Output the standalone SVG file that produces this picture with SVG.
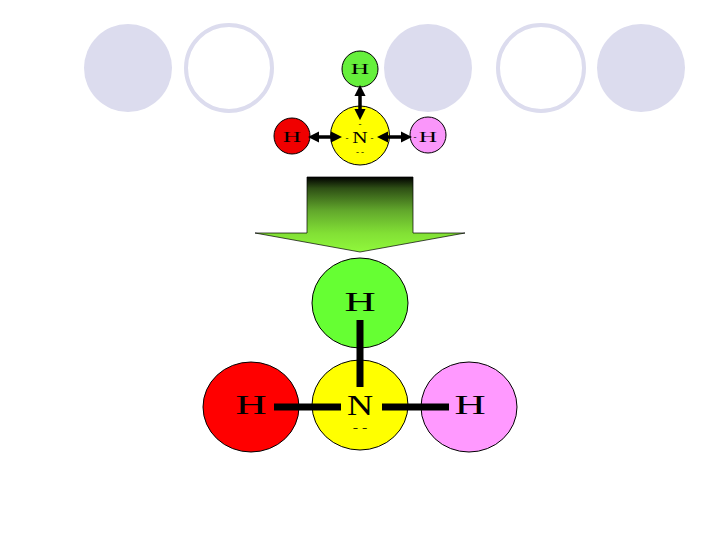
<svg xmlns="http://www.w3.org/2000/svg" width="720" height="540" viewBox="0 0 720 540">
<style>
.deco{fill:#dcdcee}
.ring{fill:#fff;stroke:#dcdcee;stroke-width:4}
.atom{stroke:#000;stroke-width:1}
text{font-family:"Liberation Serif",serif;fill:#000;text-anchor:middle}
.big{font-size:27px}
.bign{font-size:29px}
.small{font-size:14.500px}
.smalln{font-size:17px}
.dash{font-size:9px}
.bond{stroke:#000;stroke-width:7;fill:none}
.arr{stroke:#000;stroke-width:3.500;fill:none;marker-start:url(#ah);marker-end:url(#ah)}
</style>
<defs>
<marker id="ah" viewBox="0 0 10 10" refX="5" refY="5" markerWidth="3.200" markerHeight="3.200" orient="auto-start-reverse"><path d="M0 0L10 5L0 10Z" fill="#000"/></marker>
<linearGradient id="g" x1="0" y1="0" x2="0" y2="1"><stop offset="0" stop-color="#000"/><stop offset=".15" stop-color="#2e4f15"/><stop offset=".45" stop-color="#62a82c"/><stop offset=".75" stop-color="#82e035"/><stop offset="1" stop-color="#90f83c"/></linearGradient>
</defs>
<g id="decor">
<circle class="deco" cx="128" cy="68" r="44"/>
<circle class="ring" cx="229" cy="68" r="43"/>
<circle class="deco" cx="428" cy="68" r="44"/>
<circle class="ring" cx="541" cy="68" r="43"/>
<circle class="deco" cx="641" cy="68" r="44"/>
</g>
<g id="s-h-top"><circle class="atom" cx="360" cy="69" r="18" fill="#66f03c"/><text class="small" transform="translate(360 73.500) scale(1.750 1)">H</text></g>
<g id="s-n"><circle class="atom" cx="360" cy="135.500" r="29.500" fill="#ffff00"/><text class="smalln" transform="translate(360 143) scale(1.250 1)">N</text><text class="dash" x="347" y="141">-</text><text class="dash" x="372" y="141">-</text><text class="dash" x="360" y="127">-</text><text class="dash" x="360" y="155">- -</text></g>
<g id="s-h-left"><circle class="atom" cx="292" cy="136" r="18" fill="#f00000"/><text class="small" transform="translate(292 141.500) scale(1.750 1)">H</text></g>
<g id="s-h-right"><circle class="atom" cx="428" cy="135" r="18" fill="#fa96fa"/><text class="small" transform="translate(428 141.500) scale(1.750 1)">H</text><text class="dash" x="415" y="140">-</text></g>
<g id="arrow"><path d="M307 177H413V233H465L360 252L255 233H307Z" fill="url(#g)" stroke="#000" stroke-width=".7"/></g>
<g id="b-h-top"><ellipse class="atom" cx="360" cy="303" rx="48" ry="45" fill="#66ff33"/><text class="big" transform="translate(360 311) scale(1.600 1)">H</text></g>
<g id="b-n"><ellipse class="atom" cx="360" cy="405" rx="48" ry="45" fill="#ffff00"/><text class="bign" transform="translate(360 415) scale(1.250 1)">N</text><text transform="translate(360 431) scale(1.600 1)" style="font-size:10px">- -</text></g>
<g id="b-h-left"><ellipse class="atom" cx="251" cy="407" rx="48" ry="45" fill="#ff0000"/><text class="big" transform="translate(251 414) scale(1.600 1)">H</text></g>
<g id="b-h-right"><ellipse class="atom" cx="469" cy="407" rx="48" ry="45" fill="#ff99ff"/><text class="big" transform="translate(470 414) scale(1.600 1)">H</text></g>
<g id="connectors">
<path class="arr" d="M360 90.500V114.500"/>
<path class="arr" d="M313.500 137H336.500"/>
<path class="arr" d="M382.500 137H406.500"/>
<path class="bond" d="M360 320V387"/>
<path class="bond" d="M274 407H341"/>
<path class="bond" d="M382 407H449"/>
</g>
</svg>
